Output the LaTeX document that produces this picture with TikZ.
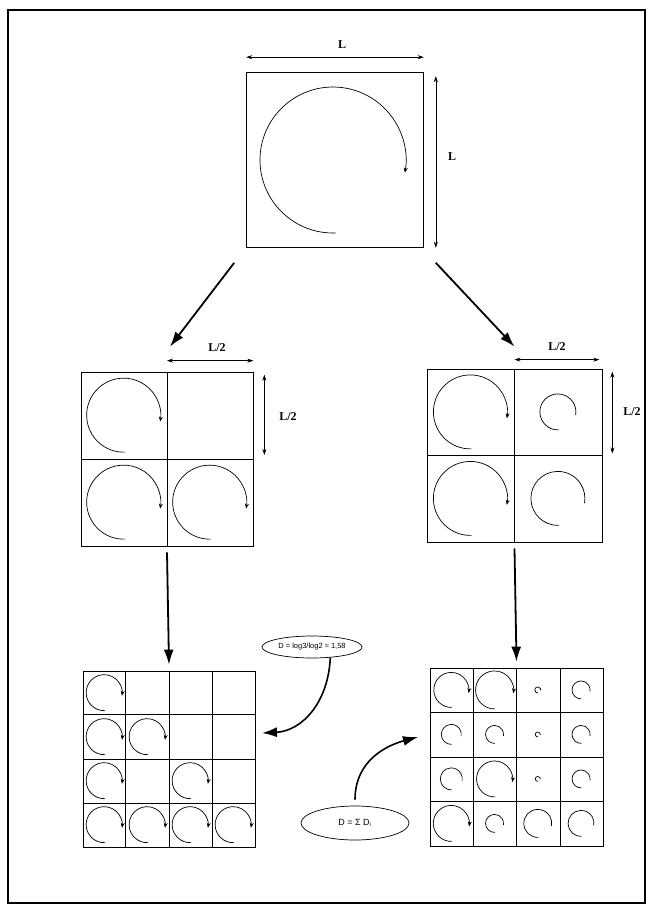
\documentclass[tikz,border=0pt]{standalone}
\usepackage{fontspec}
\setmainfont{Liberation Serif}
\newfontfamily\eqfont{Liberation Sans}
\usetikzlibrary{shapes.geometric,arrows.meta,calc}
\tikzset{cell/.style={draw,line width=0.7pt,inner sep=0pt},
  spin/.style={line width=0.7pt,-{Stealth[length=5pt,width=4pt]}},
  swirl/.style={line width=0.7pt},
  bigarrow/.style={line width=1.8pt,-{Latex[length=15pt,width=10pt]}},
  measure/.style={line width=0.6pt,{Stealth[length=6pt,width=4pt]}-{Stealth[length=6pt,width=4pt]}},
  dimlabel/.style={font=\bfseries\fontsize{12}{13}\selectfont},
  eqbox/.style={draw,ellipse,line width=0.7pt,inner sep=0pt,font=\eqfont\fontsize{7.5}{9}\selectfont}}
\newcommand{\whirl}[3][spin]{\draw[#1] #2 ++(272:#3) arc[start angle=272,end angle=-10,radius=#3];}

\begin{document}
\begin{tikzpicture}[x=1pt,y=-1pt]
\useasboundingbox (0,0) rectangle (654,914);
% frame
\draw[line width=1.5pt] (8,10) rectangle (645,903);

% the squares
\node[cell,minimum width=177pt,minimum height=175pt] (top) at (335,160) {};
\node[cell,minimum width=172pt,minimum height=174pt] (midL) at (167,459) {};
\node[cell,minimum width=175pt,minimum height=173pt] (midR) at (514.5,455.5) {};
\node[cell,minimum width=172pt,minimum height=176pt] (botL) at (169,759) {};
\node[cell,minimum width=173pt,minimum height=178pt] (botR) at (516.5,757) {};

% split them into cells
\foreach \g in {midL,midR}
  \draw[line width=0.7pt] (\g.north) -- (\g.south) (\g.west) -- (\g.east);
\foreach \g in {botL,botR}
  \foreach \i in {0.25,0.5,0.75}
    \draw[line width=0.7pt] ($(\g.north west)!\i!(\g.north east)$) -- ($(\g.south west)!\i!(\g.south east)$)
      ($(\g.north west)!\i!(\g.south west)$) -- ($(\g.north east)!\i!(\g.south east)$);

% sizes
\draw[measure,line width=0.9pt] ([yshift=15pt]top.north west) -- ([yshift=15pt]top.north east);
\node[dimlabel] (sizeTop) at (342,45) {L};
\draw[measure] ([xshift=12pt,yshift=-4pt]top.north east) -- ([xshift=12pt]top.south east);
\node[dimlabel] (sizeSide) at (452,157) {L};

\draw[measure] ([yshift=11pt]midL.north) -- ([yshift=11pt]midL.north east);
\node[dimlabel] (halfTopL) at (217,348) {L/2};
\draw[measure] ([xshift=11pt,yshift=-3pt]midL.north east) -- ([xshift=11pt,yshift=4pt]midL.east);
\node[dimlabel] (halfSideL) at (288,417) {L/2};

\draw[measure] ([yshift=9pt]midR.north) -- ([yshift=9pt,xshift=-3pt]midR.north east);
\node[dimlabel] (halfTopR) at (557,347) {L/2};
\draw[measure] ([xshift=10pt,yshift=-3pt]midR.north east) -- ([xshift=10pt,yshift=2pt]midR.east);
\node[dimlabel] (halfSideR) at (632,412) {L/2};

% eddies
\whirl{([xshift=-2pt]top.center)}{73pt}
\foreach \c/\r in {1/1,1/2,2/2}
  {\whirl{($(midL.north west)+(\c*86-43,\r*87-43.5)$)}{37pt}}
\foreach \c/\r in {1/1,1/2}
  {\whirl{($(midR.north west)+(\c*87.5-43.75,\r*86.5-43.25)$)}{37pt}}
\whirl[swirl]{($(midR.north west)+(131.25,43.25)$)}{18pt}
\whirl[swirl]{($(midR.north west)+(131.25,129.75)$)}{27pt}

\foreach \c/\r in {1/1,1/2,2/2,1/3,3/3,1/4,2/4,3/4,4/4}
  {\whirl{($(botL.north west)+(\c*43-21.5,\r*44-22)$)}{18pt}}

\foreach \c/\r/\s in {1/1/17.5,2/1/19,2/3/18,1/4/18}
  {\whirl{($(botR.north west)+(\c*43.25-21.6,\r*44.5-22.25)$)}{\s pt}}
\foreach \c/\r/\s in {3/1/3,4/1/9,1/2/10,2/2/9,3/2/2.5,4/2/9,1/3/11,3/3/2.5,4/3/9,2/4/9,3/4/14,4/4/13}
  {\whirl[swirl]{($(botR.north west)+(\c*43.25-21.6,\r*44.5-22.25)$)}{\s pt}}

% steps of the cascade
\draw[bigarrow] ([shift={(-12pt,-15pt)}]top.south west) -- ([xshift=3pt,yshift=25pt]midL.north);
\draw[bigarrow] ([shift={(12pt,-15pt)}]top.south east) -- ([yshift=22pt]midR.north);
\draw[bigarrow] ([yshift=-6pt]midL.south) -- ([yshift=6pt]botL.north);
\draw[bigarrow] ([yshift=-6pt]midR.south) -- ([yshift=6pt]botR.north);

% dimensions
\node[eqbox,minimum width=100pt,minimum height=22pt] (eqA) at (312,647) {D = log3/log2 ≈ 1,58};
\node[eqbox,minimum width=108pt,minimum height=34pt,font=\eqfont\fontsize{9}{10}\selectfont] (eqB) at (355,823) {D = Σ D\textsubscript{i}};
\coordinate (tipA) at (262,733);
\coordinate (tipB) at (418,737);
\draw[bigarrow,line width=1.6pt] (eqA.-30) .. controls +(-2,45) and +(40,-2) .. (tipA);
\draw[bigarrow,line width=1.6pt] ([yshift=6pt]eqB.north) .. controls +(0,-40) and +(-30,8) .. (tipB);

\end{tikzpicture}
\end{document}
